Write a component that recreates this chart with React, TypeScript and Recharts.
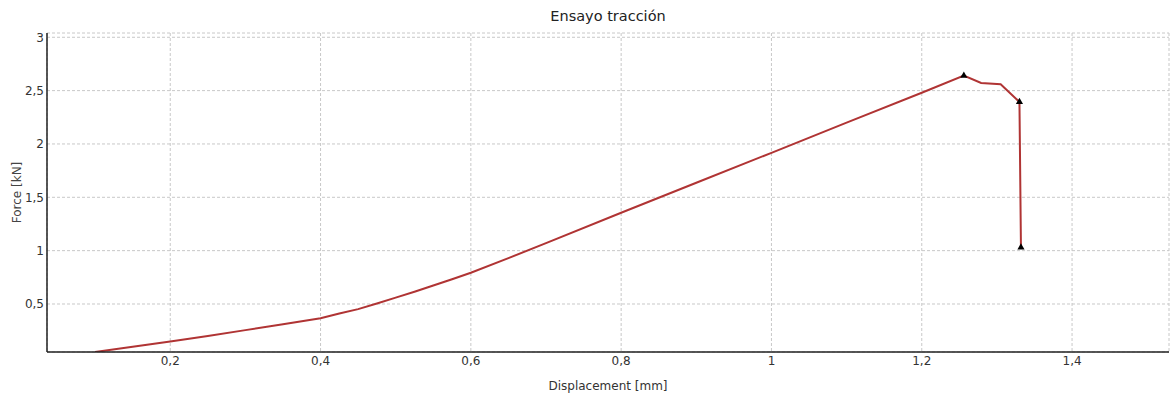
import {
  ComposedChart,
  Line,
  Scatter,
  XAxis,
  YAxis,
  ZAxis,
  CartesianGrid,
} from "recharts";

const DISPLACEMENT = [
  0.1, 0.15, 0.2, 0.25, 0.3, 0.35, 0.4, 0.425, 0.45, 0.475, 0.5, 0.525, 0.55,
  0.575, 0.6, 0.65, 0.7, 0.8, 0.9, 1.0, 1.1, 1.2, 1.256, 1.279, 1.305, 1.33,
  1.332,
];
const FORCE = [
  0.05, 0.1, 0.148, 0.2, 0.255, 0.31, 0.366, 0.41, 0.452, 0.505, 0.56, 0.615,
  0.673, 0.732, 0.793, 0.93, 1.07, 1.355, 1.636, 1.917, 2.2, 2.48, 2.64, 2.572,
  2.559, 2.394, 1.03,
];
const MARKER_X = [1.256, 1.33, 1.332];
const MARKER_Y = [2.64, 2.394, 1.03];

const X_TICKS = [0.2, 0.4, 0.6, 0.8, 1, 1.2, 1.4];
const Y_TICKS = [0.5, 1, 1.5, 2, 2.5, 3];

const curve = DISPLACEMENT.map((x, i) => ({ x, y: FORCE[i] }));
const markers = MARKER_X.map((x, i) => ({ x, y: MARKER_Y[i] }));

const fmt = (v: number) => String(v).replace(".", ",");
const FONT = "'DejaVu Sans', Verdana, sans-serif";
const tickStyle = { fontSize: 12, fill: "#333", fontFamily: FONT };

export default function App() {
  return (
    <div
      style={{
        position: "absolute",
        left: 0,
        top: 0,
        width: 1170,
        height: 394,
        background: "#fff",
        fontFamily: FONT,
      }}
    >
      <div
        style={{
          position: "absolute",
          top: 8,
          left: 0,
          width: 1216,
          textAlign: "center",
          fontSize: 14.5,
          color: "#222",
        }}
      >
        Ensayo tracción
      </div>
      <ComposedChart
        width={1170}
        height={394}
        margin={{ top: 33, right: 1, left: 0, bottom: 0 }}
      >
        <CartesianGrid stroke="#c8c8c8" strokeDasharray="3 2" />
        <ZAxis range={[22, 22]} />
        <XAxis
          xAxisId="top"
          orientation="top"
          type="number"
          dataKey="x"
          domain={[0.036, 1.529]}
          tick={false}
          tickLine={false}
          height={0}
          axisLine={{ stroke: "#222", strokeWidth: 1.5 }}
        />
        <XAxis
          type="number"
          dataKey="x"
          domain={[0.036, 1.529]}
          ticks={X_TICKS}
          tickFormatter={fmt}
          tick={tickStyle}
          tickLine={false}
          tickSize={0}
          tickMargin={4}
          height={42}
          allowDataOverflow
          axisLine={{ stroke: "#222", strokeWidth: 1.5 }}
          label={{
            value: "Displacement [mm]",
            position: "insideBottom",
            offset: 4,
            style: { fontSize: 12, fill: "#333", fontFamily: FONT },
          }}
        />
        <YAxis
          type="number"
          dataKey="y"
          domain={[0.05, 3.04]}
          ticks={Y_TICKS}
          tickFormatter={fmt}
          tick={tickStyle}
          tickLine={false}
          tickSize={0}
          tickMargin={3}
          width={47}
          allowDataOverflow
          axisLine={{ stroke: "#222", strokeWidth: 1.5 }}
          label={{
            value: "Force [kN]",
            angle: -90,
            position: "insideLeft",
            offset: 17,
            style: {
              fontSize: 12,
              fill: "#444",
              fontFamily: FONT,
              textAnchor: "middle",
            },
          }}
        />
        <Line
          data={curve}
          dataKey="y"
          type="linear"
          stroke="#b03434"
          strokeWidth={2}
          dot={false}
          isAnimationActive={false}
        />
        <Scatter
          data={markers}
          dataKey="y"
          shape="triangle"
          fill="#000"
          legendType="none"
          isAnimationActive={false}
        />
      </ComposedChart>
    </div>
  );
}
